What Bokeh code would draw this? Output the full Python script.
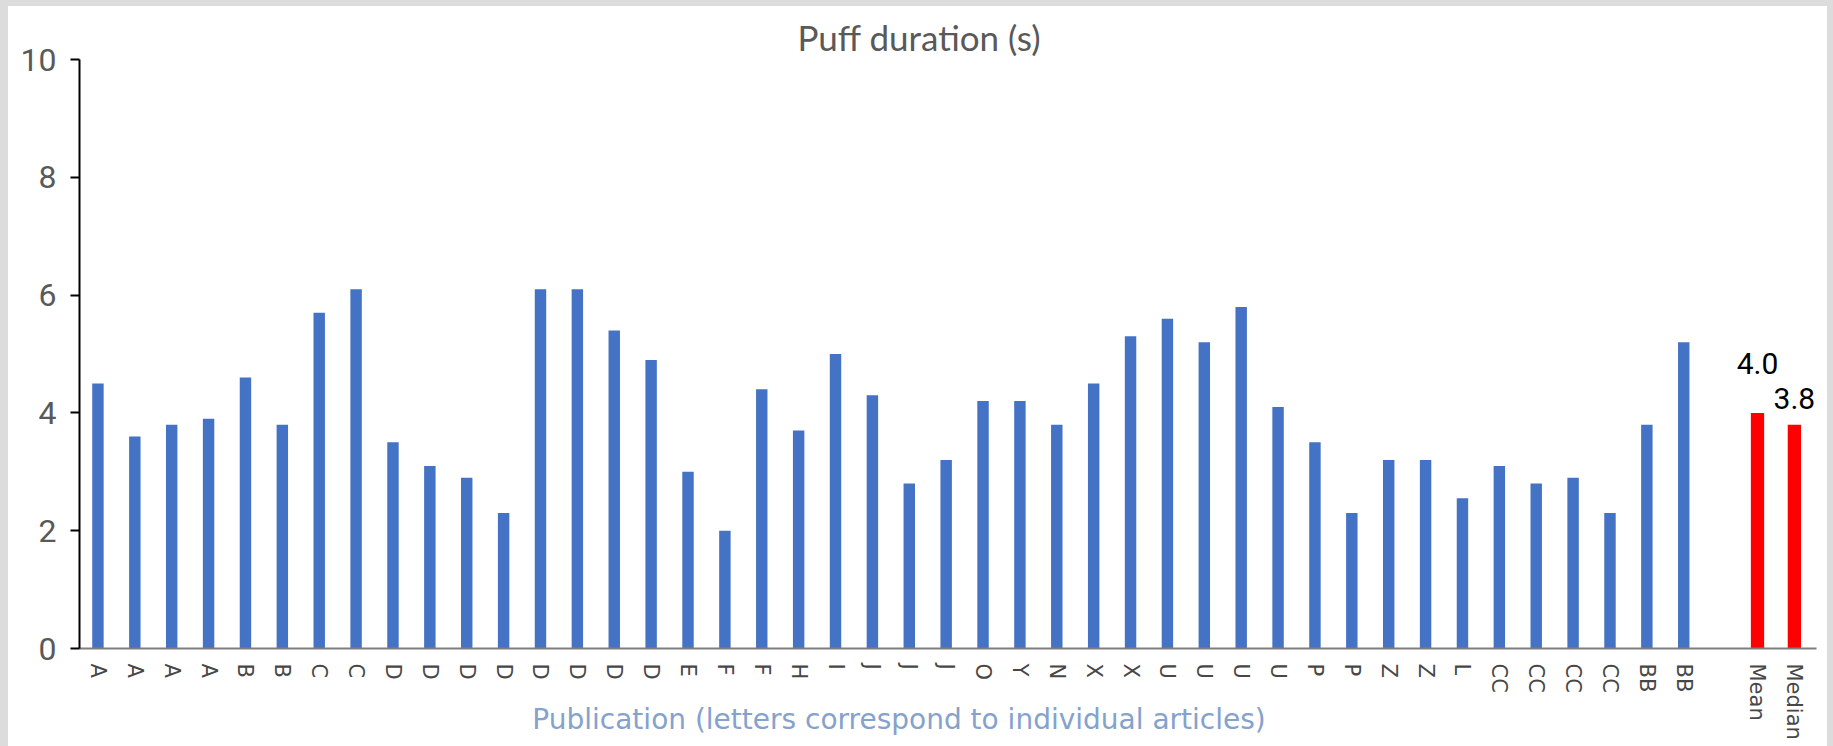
from bokeh.plotting import figure
from bokeh.layouts import column
from bokeh.models import Range1d, FixedTicker, ColumnDataSource, Title
from bokeh.core.properties import value
from bokeh.embed import file_html
from bokeh.resources import INLINE

# ---- data ----
pub_labels = ["A", "A", "A", "A", "B", "B", "C", "C", "D", "D", "D", "D", "D", "D", "D", "D",
              "E", "F", "F", "H", "I", "J", "J", "J", "O", "Y", "N", "X", "X", "U", "U", "U", "U",
              "P", "P", "Z", "Z", "L", "CC", "CC", "CC", "CC", "BB", "BB"]
puff_values = [4.5, 3.6, 3.8, 3.9, 4.6, 3.8, 5.7, 6.1, 3.5, 3.1, 2.9, 2.3, 6.1, 6.1, 5.4, 4.9,
               3.0, 2.0, 4.4, 3.7, 5.0, 4.3, 2.8, 3.2, 4.2, 4.2, 3.8, 4.5, 5.3, 5.6, 5.2, 5.8, 4.1,
               3.5, 2.3, 3.2, 3.2, 2.55, 3.1, 2.8, 2.9, 2.3, 3.8, 5.2]
summary_labels = ["Mean", "Median"]
summary_values = [4.0, 3.8]
summary_text = ["4.0", "3.8"]
summary_label_offsets = [-49, -26]
y_ticks = [0, 2, 4, 6, 8, 10]

title_text = "Puff duration (s)"
xlabel_text = "Publication (letters correspond to individual articles)"

# positions: publications, one empty slot, then summary bars
n = len(pub_labels)
pub_x = list(range(n))
sum_x = [n + 1 + i for i in range(len(summary_labels))]
n_slots = n + 1 + len(summary_labels)

W, H = 1819, 740
p = figure(width=W, height=H, output_backend="svg", toolbar_location=None,
           x_range=Range1d(-0.5, n_slots - 0.4), y_range=Range1d(0, 10),
           min_border_left=71, min_border_right=11, min_border_top=53, min_border_bottom=98,
           background_fill_color="white", border_fill_color="white")
p.margin = (6, 6, 0, 8)
p.outline_line_color = None
p.xgrid.visible = False
p.ygrid.visible = False

# title
p.title = Title(text=title_text, align="left", offset=718, vertical_align="bottom",
                text_font="Lato", text_font_size="35px", text_font_style="normal",
                text_color="#595959", standoff=3)

blue_src = ColumnDataSource(dict(x=pub_x, top=puff_values))
red_src = ColumnDataSource(dict(x=sum_x, top=summary_values, text=summary_text,
                                off=summary_label_offsets))
p.vbar(x="x", top="top", bottom=0, width=0.31, source=blue_src,
       fill_color="#4472c4", line_color=None)
p.vbar(x="x", top="top", bottom=0, width=0.36, source=red_src,
       fill_color="#ff0000", line_color=None)
p.text(x="x", y="top", text="text", y_offset="off", source=red_src,
       text_align="center", text_baseline="alphabetic",
       text_font=value("Roboto"), text_font_size="30px", text_color="black")

# y axis
ya = p.yaxis[0]
ya.ticker = FixedTicker(ticks=y_ticks)
ya.axis_line_color = "black"
ya.axis_line_width = 2
ya.major_tick_line_color = "black"
ya.major_tick_line_width = 2
ya.major_tick_out = 9
ya.major_tick_in = 0
ya.minor_tick_line_color = None
ya.major_label_standoff = 14
ya.major_label_text_font = "Roboto"
ya.major_label_text_font_size = "32px"
ya.major_label_text_color = "#595959"

# x axis
xa = p.xaxis[0]
xa.ticker = FixedTicker(ticks=pub_x + sum_x)
overrides = {}
for i, lab in zip(pub_x, pub_labels):
    overrides[i] = lab
for i, lab in zip(sum_x, summary_labels):
    overrides[i] = lab
xa.major_label_overrides = overrides
xa.major_label_orientation = "vertical"
xa.axis_line_color = "#7f7f7f"
xa.axis_line_width = 2
xa.major_tick_line_color = None
xa.minor_tick_line_color = None
xa.major_tick_out = 0
xa.major_tick_in = 0
xa.major_label_standoff = 15
xa.major_label_text_font = "DejaVu Sans"
xa.major_label_text_font_size = "21px"
xa.major_label_text_font_style = "normal"
xa.major_label_text_color = "#474747"

# axis label, shifted left of the frame centre with trailing no-break spaces
xa.axis_label = xlabel_text + "\u00a0" * 11
xa.axis_label_standoff = -40
xa.axis_label_text_font = "DejaVu Sans"
xa.axis_label_text_font_size = "28px"
xa.axis_label_text_font_style = "normal"
xa.axis_label_text_color = "#84a2cc"

layout = column(p, styles={
    "background-color": "white",
    "box-shadow": "inset 8px 6px 0 0 #dcdcdc, inset -6px 0 0 0 #dcdcdc",
})

open("out.html", "w").write(file_html(layout, INLINE))
